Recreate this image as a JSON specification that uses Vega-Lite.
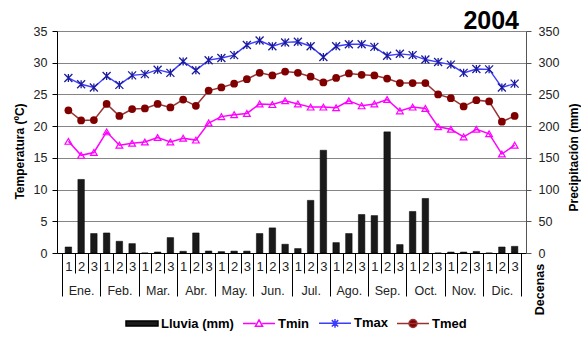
{
  "$schema": "https://vega.github.io/schema/vega-lite/v6.json",
  "width": 469,
  "height": 222,
  "autosize": {"type": "none"},
  "padding": {"left": 57, "top": 31, "right": 55, "bottom": 86},
  "background": "white",
  "config": {
    "view": {"stroke": null},
    "font": "Liberation Sans",
    "axis": {"labelFont": "Liberation Sans", "titleFont": "Liberation Sans", "labelColor": "#222", "titleColor": "#000"}
  },
  "title": {"text": "2004", "anchor": "end", "frame": "group", "fontSize": 25, "fontWeight": "bold", "font": "Liberation Sans", "color": "#000", "dx": -7, "offset": 2, "dy": 10.5},
  "datasets": {
    "decenas": [
      {"idx": 1, "tmax": 27.6, "tmed": 22.5, "tmin": 17.6, "lluvia": 9.5},
      {"idx": 2, "tmax": 26.6, "tmed": 20.9, "tmin": 15.4, "lluvia": 116},
      {"idx": 3, "tmax": 26.1, "tmed": 20.95, "tmin": 15.85, "lluvia": 30.7},
      {"idx": 4, "tmax": 27.9, "tmed": 23.5, "tmin": 19.1, "lluvia": 31.6},
      {"idx": 5, "tmax": 26.5, "tmed": 21.6, "tmin": 17.0, "lluvia": 18.5},
      {"idx": 6, "tmax": 28.0, "tmed": 22.7, "tmin": 17.3, "lluvia": 14.8},
      {"idx": 7, "tmax": 28.2, "tmed": 22.8, "tmin": 17.5, "lluvia": 0},
      {"idx": 8, "tmax": 28.9, "tmed": 23.5, "tmin": 18.2, "lluvia": 1.6},
      {"idx": 9, "tmax": 28.4, "tmed": 22.95, "tmin": 17.5, "lluvia": 24.3},
      {"idx": 10, "tmax": 30.2, "tmed": 24.2, "tmin": 18.1, "lluvia": 2.7},
      {"idx": 11, "tmax": 28.8, "tmed": 23.2, "tmin": 17.8, "lluvia": 31.6},
      {"idx": 12, "tmax": 30.4, "tmed": 25.6, "tmin": 20.5, "lluvia": 3.2},
      {"idx": 13, "tmax": 30.75, "tmed": 26.1, "tmin": 21.5, "lluvia": 2.2},
      {"idx": 14, "tmax": 31.2, "tmed": 26.7, "tmin": 21.8, "lluvia": 3},
      {"idx": 15, "tmax": 32.8, "tmed": 27.4, "tmin": 22.0, "lluvia": 3},
      {"idx": 16, "tmax": 33.5, "tmed": 28.4, "tmin": 23.5, "lluvia": 30.7},
      {"idx": 17, "tmax": 32.6, "tmed": 28.0, "tmin": 23.4, "lluvia": 39.6},
      {"idx": 18, "tmax": 33.2, "tmed": 28.6, "tmin": 24.0, "lluvia": 13.8},
      {"idx": 19, "tmax": 33.3, "tmed": 28.4, "tmin": 23.5, "lluvia": 7},
      {"idx": 20, "tmax": 32.6, "tmed": 27.8, "tmin": 23.0, "lluvia": 83},
      {"idx": 21, "tmax": 30.9, "tmed": 26.9, "tmin": 23.0, "lluvia": 162},
      {"idx": 22, "tmax": 32.6, "tmed": 27.6, "tmin": 22.9, "lluvia": 16.4},
      {"idx": 23, "tmax": 32.9, "tmed": 28.3, "tmin": 24.0, "lluvia": 30.7},
      {"idx": 24, "tmax": 32.9, "tmed": 28.1, "tmin": 23.2, "lluvia": 60.7},
      {"idx": 25, "tmax": 32.5, "tmed": 28.0, "tmin": 23.5, "lluvia": 59},
      {"idx": 26, "tmax": 31.1, "tmed": 27.5, "tmin": 24.2, "lluvia": 191},
      {"idx": 27, "tmax": 31.4, "tmed": 26.8, "tmin": 22.4, "lluvia": 13.3},
      {"idx": 28, "tmax": 31.2, "tmed": 26.8, "tmin": 23.0, "lluvia": 65.5},
      {"idx": 29, "tmax": 30.5, "tmed": 26.8, "tmin": 22.8, "lluvia": 86},
      {"idx": 30, "tmax": 30.1, "tmed": 25.0, "tmin": 19.9, "lluvia": 0},
      {"idx": 31, "tmax": 29.7, "tmed": 24.4, "tmin": 19.5, "lluvia": 1.5},
      {"idx": 32, "tmax": 28.4, "tmed": 23.1, "tmin": 18.3, "lluvia": 1.5},
      {"idx": 33, "tmax": 29.0, "tmed": 24.1, "tmin": 19.5, "lluvia": 2.5},
      {"idx": 34, "tmax": 28.95, "tmed": 23.9, "tmin": 18.8, "lluvia": 0},
      {"idx": 35, "tmax": 26.1, "tmed": 20.7, "tmin": 15.6, "lluvia": 9.5},
      {"idx": 36, "tmax": 26.7, "tmed": 21.6, "tmin": 17.0, "lluvia": 10.5}
    ],
    "leyenda": [
      {"serie": "Lluvia (mm)"},
      {"serie": "Tmin"},
      {"serie": "Tmax"},
      {"serie": "Tmed"}
    ]
  },
  "data": {"name": "decenas"},
  "layer": [
    {
      "mark": {"type": "bar", "width": 6.5, "color": "#1a1a1a", "stroke": "#000", "strokeWidth": 0.5},
      "encoding": {
        "x": {"field": "idx", "type": "quantitative",
          "scale": {"domain": [0.5, 36.5], "nice": false, "zero": false},
          "axis": {"orient": "bottom", "values": [0.5,1.5,2.5,3.5,4.5,5.5,6.5,7.5,8.5,9.5,10.5,11.5,12.5,13.5,14.5,15.5,16.5,17.5,18.5,19.5,20.5,21.5,22.5,23.5,24.5,25.5,26.5,27.5,28.5,29.5,30.5,31.5,32.5,33.5,34.5,35.5,36.5],
            "labels": false, "grid": false, "domainColor": "#000", "domainWidth": 1, "tickColor": "#000", "tickWidth": 1,
            "tickSize": {"condition": {"test": "(datum.value - 0.5) % 3 == 0", "value": 43}, "value": 20},
            "title": "Decenas", "titleAngle": 270, "titleX": 482, "titleY": 36, "titleAlign": "center", "titleBaseline": "middle", "titleFontSize": 12.5, "titleFontWeight": "bold"}},
        "y": {"field": "lluvia", "type": "quantitative",
          "scale": {"domain": [0, 350], "nice": false},
          "axis": {"orient": "right", "values": [0,50,100,150,200,250,300,350], "grid": false, "domainColor": "#555", "tickColor": "#555", "tickSize": 5, "labelPadding": 7, "labelFontSize": 12.5,
            "title": "Precipitación (mm)", "titleAngle": 270, "titleX": 47, "titleY": 126, "titleAlign": "center", "titleBaseline": "middle", "titleFontSize": 12, "titleFontWeight": "bold"}}
      }
    },
    {
      "mark": {"type": "line", "color": "#ff00ff", "strokeWidth": 1.5, "point": {"shape": "triangle-up", "filled": false, "color": "#ff00ff", "size": 45, "strokeWidth": 1.2}},
      "encoding": {
        "x": {"field": "idx", "type": "quantitative",
          "axis": {"orient": "bottom", "values": [1,2,3,4,5,6,7,8,9,10,11,12,13,14,15,16,17,18,19,20,21,22,23,24,25,26,27,28,29,30,31,32,33,34,35,36],
            "labelExpr": "'' + (((datum.value - 1) % 3) + 1)", "ticks": false, "tickSize": 0, "domain": false, "grid": false, "labelPadding": 7, "labelFontSize": 13, "labelOverlap": false, "labelFlush": false, "labelBound": false, "title": null}},
        "y": {"field": "tmin", "type": "quantitative",
          "scale": {"domain": [0, 35], "nice": false},
          "axis": {"orient": "left", "values": [0,5,10,15,20,25,30,35], "grid": true, "gridColor": "#858585", "gridWidth": 1, "domainColor": "#000", "tickColor": "#000", "tickSize": 5, "labelPadding": 5, "labelFontSize": 12.5,
            "title": "Temperatura (ºC)", "titleAngle": 270, "titleX": -38, "titleY": 120, "titleAlign": "center", "titleBaseline": "middle", "titleFontSize": 12, "titleFontWeight": "bold"}}
      }
    },
    {
      "mark": {"type": "line", "color": "#3d3dff", "strokeWidth": 1.4, "point": {"shape": "M-1,-1L1,1M-1,1L1,-1M0,-1L0,1", "filled": false, "color": "#1c1c9c", "size": 64, "strokeWidth": 1.3}},
      "encoding": {
        "x": {"field": "idx", "type": "quantitative",
          "axis": {"orient": "bottom", "values": [2,5,8,11,14,17,20,23,26,29,32,35],
            "labelExpr": "['Ene.','Feb.','Mar.','Abr.','May.','Jun.','Jul.','Ago.','Sep.','Oct.','Nov.','Dic.'][(datum.value - 2) / 3]", "ticks": false, "tickSize": 0, "domain": false, "grid": false, "labelPadding": 31, "labelFontSize": 12.5, "labelOverlap": false, "labelFlush": false, "labelBound": false, "title": null}},
        "y": {"field": "tmax", "type": "quantitative", "scale": {"domain": [0, 35], "nice": false}, "axis": null}
      }
    },
    {
      "mark": {"type": "line", "color": "#993333", "strokeWidth": 1.5, "point": {"shape": "circle", "filled": true, "color": "#800000", "size": 60}},
      "encoding": {
        "x": {"field": "idx", "type": "quantitative", "axis": null},
        "y": {"field": "tmed", "type": "quantitative", "scale": {"domain": [0, 35], "nice": false}, "axis": null}
      }
    },
    {
      "data": {"name": "leyenda"},
      "mark": {"type": "point", "filled": true, "opacity": 0, "strokeWidth": 1.5},
      "encoding": {
        "color": {"field": "serie", "type": "nominal",
          "scale": {"domain": ["Lluvia (mm)", "Tmin", "Tmax", "Tmed"], "range": ["#1a1a1a", "#ffffff", "#3d3dff", "#800000"]},
          "legend": {"orient": "none", "legendX": 68, "legendY": 275, "direction": "horizontal", "title": null, "symbolSize": 1024, "symbolOpacity": 1, "symbolStrokeWidth": 1.5, "labelFont": "Liberation Sans", "labelFontSize": 13, "labelFontWeight": "bold", "labelColor": "#000", "labelOffset": 2, "columnPadding": 6}},
        "stroke": {"field": "serie", "type": "nominal",
          "scale": {"domain": ["Lluvia (mm)", "Tmin", "Tmax", "Tmed"], "range": ["#000000", "#ff00ff", "#3d3dff", "#993333"]},
          "legend": {"orient": "none", "legendX": 68, "legendY": 275, "direction": "horizontal", "title": null, "symbolSize": 1024, "symbolOpacity": 1, "symbolStrokeWidth": 1.5, "labelFont": "Liberation Sans", "labelFontSize": 13, "labelFontWeight": "bold", "labelColor": "#000", "labelOffset": 2, "columnPadding": 6}},
        "shape": {"field": "serie", "type": "nominal",
          "scale": {"domain": ["Lluvia (mm)", "Tmin", "Tmax", "Tmed"], "range": [
            "M-1,-0.16H1V0.16H-1Z",
            "M-1,0H-0.2M0.2,0H1M0,-0.22L0.22,0.17L-0.22,0.17Z",
            "M-1,0H1M-0.2,-0.2L0.2,0.2M-0.2,0.2L0.2,-0.2M0,-0.27V0.27",
            "M-1,0H1M-0.25,0A0.25,0.25 0 1 0 0.25,0A0.25,0.25 0 1 0 -0.25,0Z"]},
          "legend": {"orient": "none", "legendX": 68, "legendY": 275, "direction": "horizontal", "title": null, "symbolSize": 1024, "symbolOpacity": 1, "symbolStrokeWidth": 1.5, "labelFont": "Liberation Sans", "labelFontSize": 13, "labelFontWeight": "bold", "labelColor": "#000", "labelOffset": 2, "columnPadding": 6}}
      }
    }
  ],
  "resolve": {"scale": {"y": "independent"}, "axis": {"x": "independent"}}
}
